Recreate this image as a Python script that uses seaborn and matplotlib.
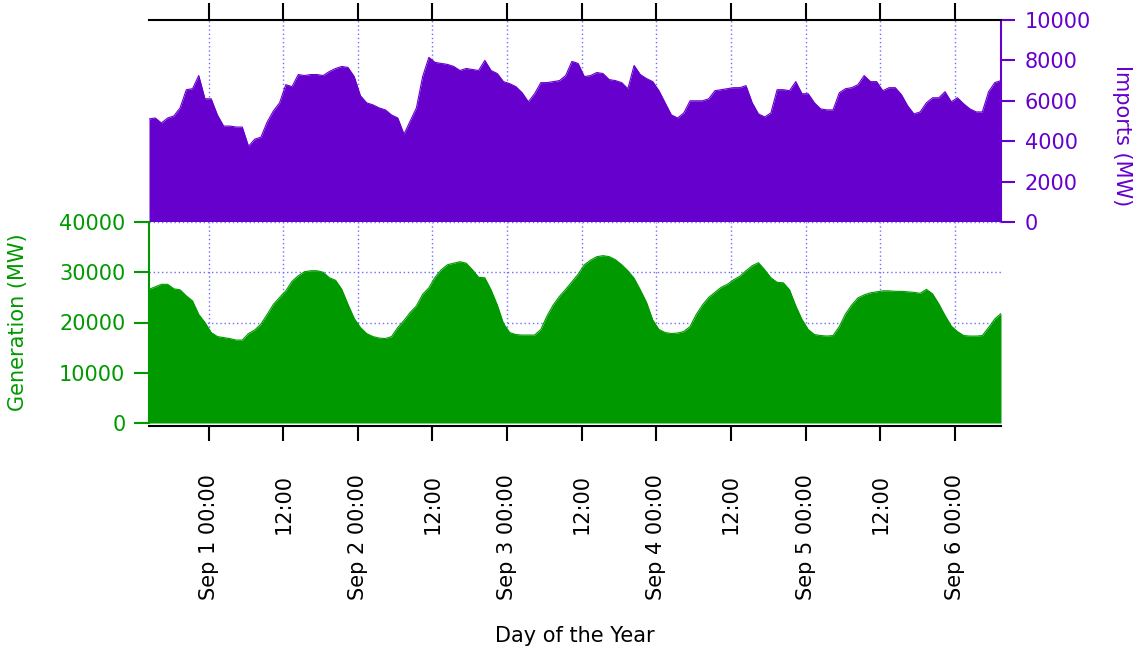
import matplotlib
matplotlib.use("Agg")
import matplotlib.pyplot as plt
import pandas as pd
import seaborn as sns

# ---------------- data ----------------
start_time = "2023-08-31 14:25"

imports_mw = [
    5100, 5150, 4900, 5150, 5250, 5650, 6550, 6600, 7250, 6100,
    6100, 5300, 4750, 4750, 4700, 4700, 3750, 4100, 4200, 4950,
    5500, 5900, 6800, 6700, 7300, 7250, 7300, 7300, 7250, 7450,
    7600, 7700, 7650, 7200, 6250, 5900, 5800, 5650, 5550, 5300,
    5150, 4350, 5000, 5650, 7200, 8150, 7900, 7850, 7800, 7700,
    7500, 7600, 7550, 7500, 8000, 7500, 7350, 6950, 6850, 6700,
    6400, 5950, 6350, 6900, 6900, 6950, 7000, 7250, 7950, 7850,
    7200, 7250, 7400, 7350, 7050, 7000, 6900, 6600, 7750, 7300,
    7100, 6950, 6500, 5900, 5300, 5150, 5400, 6000, 6000, 6000,
    6100, 6500, 6550, 6600, 6650, 6650, 6750, 5900, 5350, 5200,
    5400, 6550, 6550, 6500, 6950, 6350, 6350, 5900, 5600, 5550,
    5550, 6400, 6600, 6650, 6800, 7250, 6950, 6950, 6500, 6650,
    6650, 6300, 5750, 5350, 5450, 5900, 6150, 6150, 6450, 5950,
    6150, 5850, 5600, 5450, 5450, 6450, 6900, 7000,
]

generation_mw = [
    26600, 27100, 27600, 27600, 26700, 26500, 25300, 24300, 21600, 20000,
    18000, 17200, 17000, 16800, 16500, 16500, 17800, 18500, 19700, 21600,
    23600, 25000, 26300, 28200, 29300, 30100, 30300, 30300, 30000, 28900,
    28400, 26600, 23600, 20800, 19000, 17800, 17200, 16900, 16800, 17200,
    19000, 20400, 22000, 23300, 25600, 26900, 29000, 30500, 31500, 31800,
    32100, 31800, 30500, 29000, 28900, 26500, 23500, 19800, 18000, 17600,
    17500, 17500, 17500, 18600, 21300, 23500, 25200, 26600, 28100, 29600,
    31500, 32400, 33100, 33300, 33100, 32500, 31500, 30300, 28800, 26500,
    24000, 20500, 18600, 18000, 17800, 17900, 18200, 19200, 21600, 23500,
    25000, 26000, 27000, 27600, 28500, 29200, 30300, 31300, 31900, 30500,
    28900, 28000, 27900, 26500, 23300, 20600, 18600, 17600, 17400, 17300,
    17400, 19200, 21700, 23500, 24900, 25500, 25900, 26100, 26300, 26300,
    26200, 26200, 26100, 26000, 25800, 26600, 25700, 23700, 21400, 19300,
    18200, 17400, 17300, 17300, 17400, 19000, 20700, 21800,
]

tick_times = [
    "2023-09-01 00:00", "2023-09-01 12:00", "2023-09-02 00:00", "2023-09-02 12:00",
    "2023-09-03 00:00", "2023-09-03 12:00", "2023-09-04 00:00", "2023-09-04 12:00",
    "2023-09-05 00:00", "2023-09-05 12:00", "2023-09-06 00:00",
]
tick_labels = [
    "Sep 1 00:00", "12:00", "Sep 2 00:00", "12:00", "Sep 3 00:00", "12:00",
    "Sep 4 00:00", "12:00", "Sep 5 00:00", "12:00", "Sep 6 00:00",
]
imports_ticks = [0, 2000, 4000, 6000, 8000, 10000]
generation_ticks = [0, 10000, 20000, 30000, 40000]

# ---------------- styling ----------------
PURPLE = "#6600CC"
GREEN = "#009900"
GRID = "#6f6fff"

sns.set_theme(style="white")
plt.rcParams["font.family"] = ["DejaVu Sans"]

times = pd.date_range(start_time, periods=len(imports_mw), freq="h")
df = pd.DataFrame({"time": times, "imports": imports_mw, "generation": generation_mw})
tick_pos = pd.to_datetime(tick_times)

fig = plt.figure(figsize=(11.46, 6.53), dpi=100)
ax_top = fig.add_axes([149 / 1146, 1 - 222 / 653, 852 / 1146, 202 / 653])
ax_bot = fig.add_axes([149 / 1146, 1 - 423 / 653, 852 / 1146, 201 / 653])

grid_kw = dict(color=GRID, linestyle=(0, (1, 2)), linewidth=1.0)

# ---- top: imports ----
sns.lineplot(data=df, x="time", y="imports", ax=ax_top, color=PURPLE, linewidth=0.8)
ax_top.fill_between(df["time"], 0, df["imports"], color=PURPLE, linewidth=0, zorder=2)
ax_top.set_xlim(times[0], times[-1])
ax_top.set_ylim(0, 10000)
ax_top.set_axisbelow(True)
ax_top.set_xticks(tick_pos)
ax_top.xaxis.grid(True, **grid_kw)
ax_top.yaxis.grid(False)
ax_top.xaxis.tick_top()
ax_top.tick_params(axis="x", top=True, bottom=False, labeltop=False, labelbottom=False,
                   direction="out", length=12, width=1.5, color="black")
ax_top.yaxis.tick_right()
ax_top.yaxis.set_label_position("right")
ax_top.set_yticks(imports_ticks)
ax_top.tick_params(axis="y", right=True, left=False, labelright=True, labelleft=False,
                   direction="out", length=10, width=1.5, color=PURPLE,
                   labelcolor=PURPLE, labelsize=15, pad=7)
for s in ["left", "bottom"]:
    ax_top.spines[s].set_visible(False)
ax_top.spines["top"].set_color("black")
ax_top.spines["top"].set_linewidth(1.5)
ax_top.spines["right"].set_color(PURPLE)
ax_top.spines["right"].set_linewidth(1.5)
ax_top.set_xlabel("")
ax_top.set_ylabel("Imports (MW)", color=PURPLE, fontsize=15, rotation=270,
                  ha="center", va="center", rotation_mode="default")
ax_top.yaxis.set_label_coords((1122 - 149) / 852, 0.43)

# ---- bottom: generation ----
sns.lineplot(data=df, x="time", y="generation", ax=ax_bot, color=GREEN, linewidth=0.8)
ax_bot.fill_between(df["time"], 0, df["generation"], color=GREEN, linewidth=0, zorder=2)
ax_bot.set_xlim(times[0], times[-1])
ax_bot.set_ylim(0, 40000)
ax_bot.set_axisbelow(True)
ax_bot.set_xticks(tick_pos)
ax_bot.set_xticklabels(tick_labels)
ax_bot.set_yticks(generation_ticks)
ax_bot.grid(True, **grid_kw)
ax_bot.tick_params(axis="x", bottom=True, top=False, direction="out", length=11,
                   width=1.5, color="black", labelsize=15, pad=23, labelcolor="black",
                   labelrotation=90)
for lab in ax_bot.get_xticklabels():
    lab.set_va("top")
    lab.set_ha("center")
ax_bot.tick_params(axis="y", left=True, right=False, direction="out", length=11,
                   width=1.5, color=GREEN, labelcolor=GREEN, labelsize=15, pad=6)
for s in ["top", "right"]:
    ax_bot.spines[s].set_visible(False)
ax_bot.spines["left"].set_color(GREEN)
ax_bot.spines["left"].set_linewidth(1.5)
ax_bot.spines["bottom"].set_color("black")
ax_bot.spines["bottom"].set_linewidth(1.5)
ax_bot.spines["bottom"].set_position(("outward", 2.5))
ax_bot.set_ylabel("Generation (MW)", color=GREEN, fontsize=15, rotation=90,
                  ha="center", va="center", rotation_mode="default")
ax_bot.yaxis.set_label_coords((18 - 149) / 852, 0.5)
ax_bot.set_xlabel("Day of the Year", fontsize=15, color="black",
                  ha="center", va="center")
ax_bot.xaxis.set_label_coords(0.5, (423 - 636) / 201)

fig.savefig("out.png", dpi=100, facecolor="white")
